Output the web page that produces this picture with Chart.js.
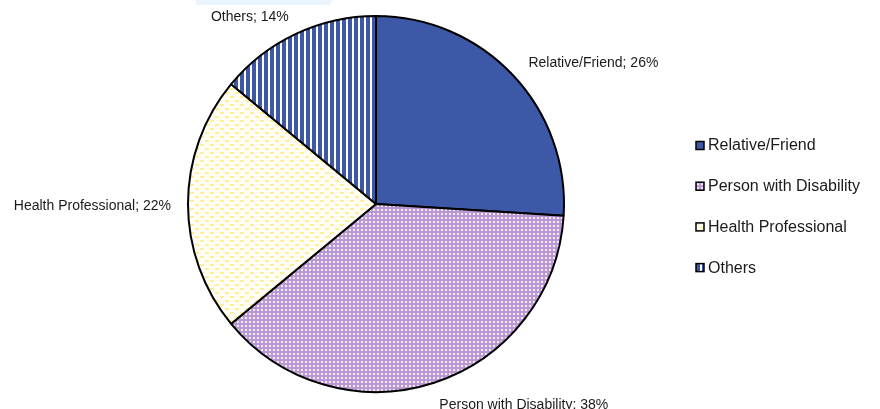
<!DOCTYPE html>
<html>
<head>
<meta charset="utf-8">
<script src="https://cdn.jsdelivr.net/npm/chart.js@4/dist/chart.umd.min.js"></script>
<style>
  html, body { margin: 0; padding: 0; background: #ffffff; }
  #wrap { width: 880px; height: 409px; position: relative; }
</style>
</head>
<body>
<div id="wrap"><canvas id="c" width="880" height="409"></canvas></div>
<script>
// ---- data ----
const categories = ['Relative/Friend', 'Person with Disability', 'Health Professional', 'Others'];
const shares = [26, 38, 22, 14];
const valueSuffix = '%';

// ---- patterns ----
function makePattern(w, h, draw) {
  const c = document.createElement('canvas');
  c.width = w; c.height = h;
  const g = c.getContext('2d');
  draw(g, w, h);
  return { canvas: c, pattern: document.getElementById('c').getContext('2d').createPattern(c, 'repeat') };
}
const BLUE = '#3e58a8';
const solidBlue = makePattern(4, 4, (g, w, h) => { g.fillStyle = BLUE; g.fillRect(0, 0, w, h); });
const lilac = makePattern(4, 4, (g, w, h) => {
  g.fillStyle = '#b998d4'; g.fillRect(0, 0, w, h);
  g.fillStyle = '#f2ebf8'; g.fillRect(1, 1, 2, 2);
});
const yellow = makePattern(10, 8, (g, w, h) => {
  g.fillStyle = '#fffef4'; g.fillRect(0, 0, w, h);
  g.fillStyle = '#ffee98';
  g.fillRect(0, 0, 4, 2);
  g.fillRect(5, 4, 4, 2);
});
const stripes = makePattern(6, 6, (g, w, h) => {
  g.fillStyle = '#ffffff'; g.fillRect(0, 0, w, h);
  g.fillStyle = BLUE; g.fillRect(0, 0, 4, h);
});
const fills = [solidBlue, lilac, yellow, stripes];

// ---- plugins ----
const decoPlugin = {
  id: 'deco',
  beforeDraw(chart) {
    const ctx = chart.ctx;
    ctx.save();
    ctx.fillStyle = '#eaf4fc';
    ctx.beginPath();
    ctx.moveTo(196, 0); ctx.lineTo(333, 0); ctx.lineTo(330, 5); ctx.lineTo(196, 5);
    ctx.closePath(); ctx.fill();
    ctx.restore();
  }
};

const outsideLabels = {
  id: 'outsideLabels',
  afterDatasetsDraw(chart) {
    const ctx = chart.ctx;
    const meta = chart.getDatasetMeta(0);
    ctx.save();
    ctx.font = '14px "Liberation Sans", Arial, sans-serif';
    ctx.fillStyle = '#1a1a1a';
    meta.data.forEach((arc, i) => {
      const p = arc.getProps(['x', 'y', 'startAngle', 'endAngle', 'outerRadius'], true);
      const mid = (p.startAngle + p.endAngle) / 2;
      const dx = Math.cos(mid), dy = Math.sin(mid);
      const r = p.outerRadius + 17;
      let ax = p.x + dx * r, ay = p.y + dy * r;
      ctx.textAlign = dx > 0.2 ? 'left' : (dx < -0.2 ? 'right' : 'center');
      ctx.textBaseline = 'middle';
      let y = ay + 2;
      if (dy < -0.2) { y = ay - 1; if (dx > 0) ax += 3; }
      else if (dy > 0.2) y = ay + 6;
      ctx.fillText(categories[i] + '; ' + shares[i] + valueSuffix, ax, y);
    });
    ctx.restore();
  }
};

const sideLegend = {
  id: 'sideLegend',
  afterDraw(chart) {
    const ctx = chart.ctx;
    ctx.save();
    const x0 = 696, y0 = 145.5, step = 40.7, box = 8;
    ctx.font = '16px "Liberation Sans", Arial, sans-serif';
    ctx.textBaseline = 'middle';
    ctx.textAlign = 'left';
    categories.forEach((name, i) => {
      const y = y0 + i * step;
      ctx.save();
      ctx.translate(x0, y - box / 2);
      ctx.fillStyle = fills[i].pattern;
      ctx.fillRect(0, 0, box, box);
      ctx.lineWidth = 1.5;
      ctx.strokeStyle = '#000';
      ctx.strokeRect(0, 0, box, box);
      ctx.restore();
      ctx.fillStyle = '#1a1a1a';
      ctx.fillText(name, x0 + 12, y + 0.5);
    });
    ctx.restore();
  }
};

new Chart(document.getElementById('c'), {
  type: 'pie',
  data: {
    labels: categories,
    datasets: [{
      data: shares,
      backgroundColor: fills.map(f => f.pattern),
      borderColor: '#000000',
      borderWidth: 2
    }]
  },
  options: {
    responsive: false,
    devicePixelRatio: 1,
    animation: false,
    layout: { padding: { left: 187, right: 315, top: 15, bottom: 16 } },
    plugins: {
      legend: { display: false },
      tooltip: { enabled: false }
    }
  },
  plugins: [decoPlugin, outsideLabels, sideLegend]
});
</script>
</body>
</html>
